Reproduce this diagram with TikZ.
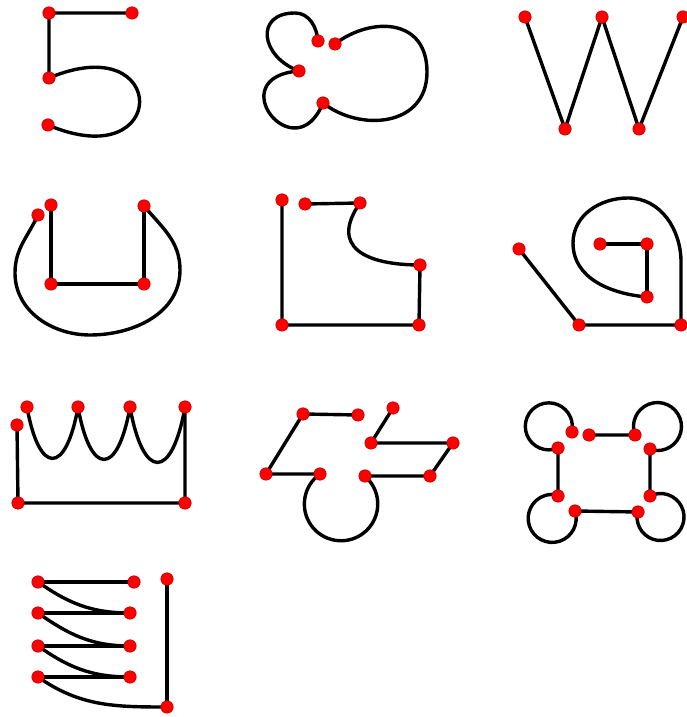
\documentclass[tikz,border=0pt]{standalone}
\usepackage{tikz}

\begin{document}
\begin{tikzpicture}[x=1pt, y=1pt,
    reddot/.style={circle, fill=red, draw=red!70!black, line width=0.5pt, inner sep=0pt, minimum size=12.5pt},
    penline/.style={line width=3.4pt, line join=round}]
    \useasboundingbox (0,0) rectangle (687,717);

    % the five
    \coordinate (a1) at (49,704);
    \coordinate (a2) at (132,704);
    \coordinate (a3) at (49,639);
    \coordinate (a4) at (48,592);
    \draw[penline] (a2) -- (a1) -- (a3) .. controls (170,690) and (170,540) .. (a4);

    % three lobes
    \coordinate (b1) at (318,676);
    \coordinate (b2) at (335,673);
    \coordinate (b3) at (299,646);
    \coordinate (b4) at (323,614);
    \draw[penline] (b1) to[out=95,in=0] (295,704) to[out=180,in=160,looseness=1.8] (b3)
        .. controls (220,640) and (295,545) .. (b4)
        .. controls (360,585) and (427,590) .. (427,645)
        .. controls (427,700) and (370,700) .. (b2);

    % zigzag
    \coordinate (c1) at (525,700);
    \coordinate (c2) at (565,588);
    \coordinate (c3) at (602,700);
    \coordinate (c4) at (639,588);
    \coordinate (c5) at (683,700);
    \draw[penline] (c1) -- (c2) -- (c3) -- (c4) -- (c5);

    % cup
    \coordinate (d1) at (38,502);
    \coordinate (d2) at (51,512);
    \coordinate (d3) at (144,511);
    \coordinate (d4) at (51,433);
    \coordinate (d5) at (144,433);
    \draw[penline] (d2) -- (d4) -- (d5) -- (d3);
    \draw[penline] (d1) to[out=-115,in=90] (15,444) to[out=-90,in=180] (90,382)
        to[out=0,in=-90] (180,447) to[out=90,in=-50] (d3);

    % notched corner
    \coordinate (e1) at (282,517);
    \coordinate (e2) at (305,513);
    \coordinate (e3) at (360,514);
    \coordinate (e4) at (420,452);
    \coordinate (e5) at (282,392);
    \coordinate (e6) at (419,392);
    \draw[penline] (e2) -- (e3) to[out=-125,in=180,looseness=1.6] (e4) -- (e6) -- (e5) -- (e1);

    % spiral
    \coordinate (f1) at (519,468);
    \coordinate (f2) at (600,473);
    \coordinate (f3) at (647,473);
    \coordinate (f4) at (647,420);
    \coordinate (f5) at (579,392);
    \coordinate (f6) at (681,392);
    \draw[penline] (f1) -- (f5) -- (f6) -- (681,455) to[out=90,in=0] (628,519)
        to[out=180,in=90] (573,474) to[out=-90,in=175] (f4);
    \draw[penline] (f2) -- (f3) -- (f4);

    % crown
    \coordinate (g0) at (17,292);
    \coordinate (g1) at (27,310);
    \coordinate (g2) at (78,310);
    \coordinate (g3) at (130,310);
    \coordinate (g4) at (185,310);
    \coordinate (g5) at (18,214);
    \coordinate (g6) at (185,214);
    \draw[penline] (g0) -- (g5) -- (g6) -- (g4);
    \draw[penline] (g1) to[out=-80,in=-100,looseness=3.5] (g2)
        to[out=-80,in=-100,looseness=3.5] (g3) to[out=-80,in=-100,looseness=3.5] (g4);

    % parallelograms with loop
    \coordinate (h1) at (303,303);
    \coordinate (h2) at (358,302);
    \coordinate (h3) at (393,309);
    \coordinate (h4) at (371,274);
    \coordinate (h5) at (453,274);
    \coordinate (h6) at (266,243);
    \coordinate (h7) at (320,243);
    \coordinate (h8) at (365,241);
    \coordinate (h9) at (430,241);
    \draw[penline] (h2) -- (h1) -- (h6) -- (h7) arc[start angle=125, end angle=409.4, radius=36.7]
        -- (h8) -- (h9) -- (h5) -- (h4) -- (h3);

    % square with four loops
    \coordinate (k1) at (572,285);
    \coordinate (k2) at (589,282);
    \coordinate (k3) at (635,282);
    \coordinate (k4) at (558,269);
    \coordinate (k5) at (650,268);
    \coordinate (k6) at (558,221);
    \coordinate (k7) at (650,221);
    \coordinate (k8) at (575,206);
    \coordinate (k9) at (638,205);
    \draw[penline] (k2) -- (k3) arc[start angle=200.6, end angle=-111.4, radius=24] -- (k5)
        -- (k7) arc[start angle=116.6, end angle=-196.6, radius=23.5] -- (k9)
        -- (k8) arc[start angle=18, end angle=-288, radius=24] -- (k6)
        -- (k4) arc[start angle=293, end angle=-15, radius=23.5] -- (k1);

    % comb
    \coordinate (m1) at (38,135);
    \coordinate (m2) at (38,104);
    \coordinate (m3) at (38,71);
    \coordinate (m4) at (38,40);
    \coordinate (n1) at (134,135);
    \coordinate (n2) at (130,104);
    \coordinate (n3) at (130,71);
    \coordinate (n4) at (130,40);
    \coordinate (p1) at (167,138);
    \coordinate (p2) at (167,10);
    \foreach \i in {1,...,4}
        \draw[penline] (m\i) -- (n\i);
    \draw[penline] (p1) -- (p2);
    \draw[penline] (m1) to[out=-35,in=180] (n2);
    \draw[penline] (m2) to[out=-35,in=180] (n3);
    \draw[penline] (m3) to[out=-35,in=180] (n4);
    \draw[penline] (m4) to[out=-35,in=180] (p2);

    \foreach \p in {a1,a2,a3,a4, b1,b2,b3,b4, c1,c2,c3,c4,c5, d1,d2,d3,d4,d5,
        e1,e2,e3,e4,e5,e6, f1,f2,f3,f4,f5,f6, g0,g1,g2,g3,g4,g5,g6,
        h1,h2,h3,h4,h5,h6,h7,h8,h9, k1,k2,k3,k4,k5,k6,k7,k8,k9,
        m1,m2,m3,m4,n1,n2,n3,n4,p1,p2}
        \node[reddot] (\p-d) at (\p) {};
\end{tikzpicture}
\end{document}
